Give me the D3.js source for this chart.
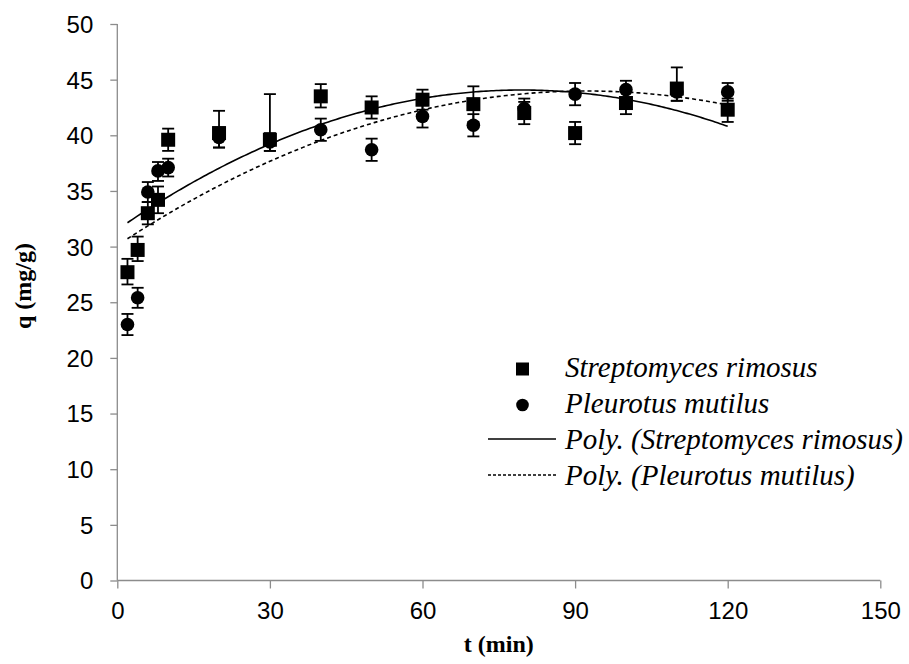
<!DOCTYPE html>
<html>
<head>
<meta charset="utf-8">
<script src="https://cdn.jsdelivr.net/npm/d3@7/dist/d3.min.js"></script>
<style>
  html, body { margin: 0; padding: 0; background: #fff; }
  svg { display: block; }
</style>
</head>
<body>
<svg id="chart" width="909" height="664"></svg>
<script>
// ---- data ----
const times = [2, 4, 6, 8, 10, 20, 30, 40, 50, 60, 70, 80, 90, 100, 110, 120];
const strepValues = [27.7, 29.7, 33.0, 34.2, 39.6, 40.2, 39.6, 43.5, 42.5, 43.2, 42.8, 42.0, 40.2, 42.9, 44.2, 42.3];
const strepErrUp   = [1.2, 1.2, 1.0, 1.2, 1.0, 2.0, 4.1, 1.1, 1.0, 0.9, 1.6, 1.0, 1.0, 1.0, 1.9, 1.0];
const strepErrDown = [1.1, 1.0, 1.0, 1.2, 1.0, 1.3, 1.0, 1.0, 1.0, 0.9, 1.6, 1.0, 1.0, 1.0, 1.1, 1.1];
const pleuValues = [23.0, 25.4, 34.9, 36.8, 37.1, 39.8, 39.4, 40.5, 38.7, 41.7, 40.9, 42.4, 43.7, 44.1, 43.9, 43.9];
const pleuErrUp   = [0.95, 0.9, 0.9, 0.8, 0.8, 0.9, 0.8, 1.0, 1.0, 1.0, 1.0, 0.9, 1.0, 0.8, 0.8, 0.8];
const pleuErrDown = [0.95, 0.9, 0.9, 0.9, 0.8, 0.9, 0.8, 1.0, 1.0, 1.0, 1.0, 0.9, 1.0, 0.8, 0.8, 0.8];
const xTicks = [0, 30, 60, 90, 120, 150];
const yTicks = [0, 5, 10, 15, 20, 25, 30, 35, 40, 45, 50];
const legendLabels = ["Streptomyces rimosus", "Pleurotus mutilus",
  "Poly. (Streptomyces rimosus)", "Poly. (Pleurotus mutilus)"];
const xTitle = "t (min)";
const yTitle = "q (mg/g)";

// ---- layout ----
const svg = d3.select("#chart");
const plotLeft = 117.3, plotRight = 880.3, plotTop = 24, plotBottom = 580.5;
const x = d3.scaleLinear().domain([0, 150]).range([plotLeft, plotRight]);
const y = d3.scaleLinear().domain([0, 50]).range([plotBottom, plotTop]);
const axisColor = "#8c8c8c";

// quadratic least squares fit (Excel "Poly." trendline, order 2)
function polyFit2(xs, ys) {
  let n = xs.length, s = [0,0,0,0,0], t = [0,0,0];
  for (let i = 0; i < n; i++) {
    let p = 1;
    for (let k = 0; k < 5; k++) { s[k] += p; p *= xs[i]; }
    p = 1;
    for (let k = 0; k < 3; k++) { t[k] += ys[i] * p; p *= xs[i]; }
  }
  const A = [[s[0], s[1], s[2], t[0]], [s[1], s[2], s[3], t[1]], [s[2], s[3], s[4], t[2]]];
  for (let c = 0; c < 3; c++) {
    for (let r = c + 1; r < 3; r++) {
      const f = A[r][c] / A[c][c];
      for (let k = c; k < 4; k++) A[r][k] -= f * A[c][k];
    }
  }
  const sol = [0, 0, 0];
  for (let r = 2; r >= 0; r--) {
    let v = A[r][3];
    for (let k = r + 1; k < 3; k++) v -= A[r][k] * sol[k];
    sol[r] = v / A[r][r];
  }
  return tt => sol[0] + sol[1] * tt + sol[2] * tt * tt;
}

// ---- axes ----
const yAxis = d3.axisLeft(y).tickValues(yTicks).tickSize(7).tickPadding(17).tickFormat(d3.format("d"));
const gy = svg.append("g").attr("transform", `translate(${plotLeft},0)`).call(yAxis);
const xAxis = d3.axisBottom(x).tickValues(xTicks).tickSize(8).tickPadding(13).tickFormat(d3.format("d"));
const gx = svg.append("g").attr("transform", `translate(0,${plotBottom})`).call(xAxis);
[gx, gy].forEach(g => {
  g.selectAll(".domain").attr("stroke", axisColor).attr("stroke-width", 1.3);
  g.selectAll(".tick line").attr("stroke", axisColor).attr("stroke-width", 1.3);
  g.selectAll(".tick text").attr("fill", "#000")
    .style("font-family", "'Liberation Sans', Arial, sans-serif").style("font-size", "24px");
});
gy.select(".domain").attr("d", `M0,${plotBottom}V${plotTop}`);
gx.select(".domain").attr("d", `M${plotLeft},0H${plotRight}`);
gy.selectAll(".tick text").attr("dy", "0.35em");

// axis titles
svg.append("text").attr("x", (plotLeft + plotRight) / 2).attr("y", 652)
  .attr("text-anchor", "middle")
  .style("font-family", "'Liberation Serif', 'Times New Roman', serif")
  .style("font-weight", "bold").style("font-size", "24px").text(xTitle);
svg.append("text").attr("transform", "translate(31,286) rotate(-90)")
  .attr("text-anchor", "middle")
  .style("font-family", "'Liberation Serif', 'Times New Roman', serif")
  .style("font-weight", "bold").style("font-size", "24px").text(yTitle);

// ---- trendlines ----
const tLine = d3.range(2, 120.01, 0.5);
const fitS = polyFit2(times, strepValues);
const fitP = polyFit2(times, pleuValues);
const line = f => d3.line().x(d => x(d)).y(d => y(f(d)))(tLine);
svg.append("path").attr("d", line(fitS)).attr("fill", "none").attr("stroke", "#000").attr("stroke-width", 1.6);
svg.append("path").attr("d", line(fitP)).attr("fill", "none").attr("stroke", "#000").attr("stroke-width", 1.6)
  .attr("stroke-dasharray", "4,3");

// ---- error bars & markers ----
function drawSeries(vals, up, down, shape) {
  const g = svg.append("g");
  const data = times.map((t, i) => ({ t, v: vals[i], up: up[i], down: down[i] }));
  const eb = g.selectAll(".eb").data(data).enter().append("g");
  eb.append("line").attr("x1", d => x(d.t)).attr("x2", d => x(d.t))
    .attr("y1", d => y(d.v + d.up)).attr("y2", d => y(d.v - d.down))
    .attr("stroke", "#000").attr("stroke-width", 1.8);
  eb.append("line").attr("x1", d => x(d.t) - 6).attr("x2", d => x(d.t) + 6)
    .attr("y1", d => y(d.v + d.up)).attr("y2", d => y(d.v + d.up))
    .attr("stroke", "#000").attr("stroke-width", 1.8);
  eb.append("line").attr("x1", d => x(d.t) - 6).attr("x2", d => x(d.t) + 6)
    .attr("y1", d => y(d.v - d.down)).attr("y2", d => y(d.v - d.down))
    .attr("stroke", "#000").attr("stroke-width", 1.8);
  if (shape === "square") {
    g.selectAll(".m").data(data).enter().append("rect")
      .attr("x", d => x(d.t) - 7).attr("y", d => y(d.v) - 7)
      .attr("width", 14).attr("height", 14).attr("fill", "#000");
  } else {
    g.selectAll(".m").data(data).enter().append("circle")
      .attr("cx", d => x(d.t)).attr("cy", d => y(d.v)).attr("r", 6.8).attr("fill", "#000");
  }
}
drawSeries(strepValues, strepErrUp, strepErrDown, "square");
drawSeries(pleuValues, pleuErrUp, pleuErrDown, "circle");

// ---- legend ----
const lg = svg.append("g");
const rowsY = [377, 413, 449, 485];
const textX = 565;
lg.selectAll("text").data(legendLabels).enter().append("text")
  .attr("x", textX).attr("y", (d, i) => rowsY[i])
  .style("font-family", "'Liberation Serif', 'Times New Roman', serif")
  .style("font-style", "italic").style("font-size", "29px").text(d => d);
lg.append("rect").attr("x", 516).attr("y", rowsY[0] - 14.5).attr("width", 13).attr("height", 13).attr("fill", "#000");
lg.append("circle").attr("cx", 522.5).attr("cy", rowsY[1] - 8).attr("r", 6.3).attr("fill", "#000");
lg.append("line").attr("x1", 488).attr("x2", 556).attr("y1", rowsY[2] - 10).attr("y2", rowsY[2] - 10)
  .attr("stroke", "#000").attr("stroke-width", 1.6);
lg.append("line").attr("x1", 488).attr("x2", 556).attr("y1", rowsY[3] - 10).attr("y2", rowsY[3] - 10)
  .attr("stroke", "#000").attr("stroke-width", 1.6).attr("stroke-dasharray", "3,2");
</script>
</body>
</html>
